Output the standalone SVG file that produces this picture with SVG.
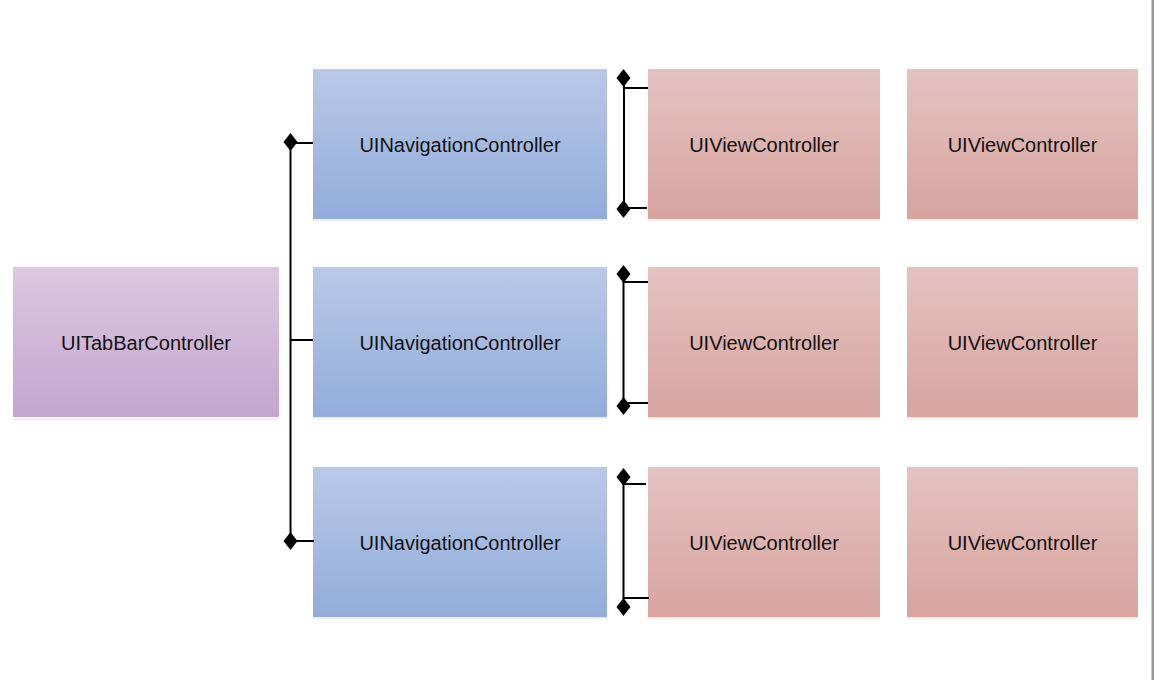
<svg xmlns="http://www.w3.org/2000/svg" width="1154" height="680" viewBox="0 0 1154 680">
<defs>
<linearGradient id="gTab" x1="0" y1="0" x2="0" y2="1"><stop offset="0" stop-color="#dcc7e1"/><stop offset="1" stop-color="#c4a5cf"/></linearGradient>
<linearGradient id="gNav" x1="0" y1="0" x2="0" y2="1"><stop offset="0" stop-color="#b9c9e7"/><stop offset="1" stop-color="#93acdb"/></linearGradient>
<linearGradient id="gVC" x1="0" y1="0" x2="0" y2="1"><stop offset="0" stop-color="#e3c3c0"/><stop offset="1" stop-color="#d9a39e"/></linearGradient>
<path id="dia" d="M0,-9 L7,0 L0,9 L-7,0 Z"/>
</defs>
<style>
.shadow{fill:#eeeeee}
.lbl{font-family:"Liberation Sans",Arial,sans-serif;font-size:20px;fill:#111;text-anchor:middle}
.ln{stroke:#000;stroke-width:2;fill:none}
.dm{fill:#000}
</style>
<rect width="1154" height="680" fill="#ffffff"/>
<rect x="1151.5" y="0" width="2.5" height="680" fill="#9a9a9a"/>

<g id="tabbar">
<rect class="shadow" x="13" y="418" width="266" height="2"/>
<rect x="13" y="267" width="266" height="150" fill="url(#gTab)"/>
<text class="lbl" x="146" y="350">UITabBarController</text>
</g>

<g id="nav1">
<rect class="shadow" x="313" y="219" width="294" height="2"/>
<rect x="313" y="69" width="294" height="150" fill="url(#gNav)"/>
<text class="lbl" x="460" y="152">UINavigationController</text>
</g>
<g id="nav2">
<rect class="shadow" x="313" y="417" width="294" height="2"/>
<rect x="313" y="267" width="294" height="150" fill="url(#gNav)"/>
<text class="lbl" x="460" y="350">UINavigationController</text>
</g>
<g id="nav3">
<rect class="shadow" x="313" y="617" width="294" height="2"/>
<rect x="313" y="467" width="294" height="150" fill="url(#gNav)"/>
<text class="lbl" x="460" y="550">UINavigationController</text>
</g>

<g id="vc1a">
<rect class="shadow" x="648" y="219" width="232" height="2"/>
<rect x="648" y="69" width="232" height="150" fill="url(#gVC)"/>
<text class="lbl" x="764" y="152">UIViewController</text>
</g>
<g id="vc1b">
<rect class="shadow" x="907" y="219" width="231" height="2"/>
<rect x="907" y="69" width="231" height="150" fill="url(#gVC)"/>
<text class="lbl" x="1022.5" y="152">UIViewController</text>
</g>
<g id="vc2a">
<rect class="shadow" x="648" y="417" width="232" height="2"/>
<rect x="648" y="267" width="232" height="150" fill="url(#gVC)"/>
<text class="lbl" x="764" y="350">UIViewController</text>
</g>
<g id="vc2b">
<rect class="shadow" x="907" y="417" width="231" height="2"/>
<rect x="907" y="267" width="231" height="150" fill="url(#gVC)"/>
<text class="lbl" x="1022.5" y="350">UIViewController</text>
</g>
<g id="vc3a">
<rect class="shadow" x="648" y="617" width="232" height="2"/>
<rect x="648" y="467" width="232" height="150" fill="url(#gVC)"/>
<text class="lbl" x="764" y="550">UIViewController</text>
</g>
<g id="vc3b">
<rect class="shadow" x="907" y="617" width="231" height="2"/>
<rect x="907" y="467" width="231" height="150" fill="url(#gVC)"/>
<text class="lbl" x="1022.5" y="550">UIViewController</text>
</g>

<g id="connectors">
<path class="ln" d="M290.5,143 V541 M290.5,143 H313 M290.5,340 H313 M290.5,541 H314"/>
<use href="#dia" class="dm" x="290.5" y="142"/>
<use href="#dia" class="dm" x="290.5" y="541"/>

<path class="ln" d="M624,79 V209 M624,88 H648 M624,208 H647"/>
<use href="#dia" class="dm" x="623.5" y="78"/>
<use href="#dia" class="dm" x="623.5" y="209"/>

<path class="ln" d="M623.5,275 V405 M623.5,282 H648 M623.5,403 H648"/>
<use href="#dia" class="dm" x="623.5" y="274"/>
<use href="#dia" class="dm" x="623.5" y="406"/>

<path class="ln" d="M623.5,478 V607 M623.5,484 H646 M623.5,598 H649"/>
<use href="#dia" class="dm" x="623.5" y="477"/>
<use href="#dia" class="dm" x="623.5" y="607"/>
</g>
</svg>
